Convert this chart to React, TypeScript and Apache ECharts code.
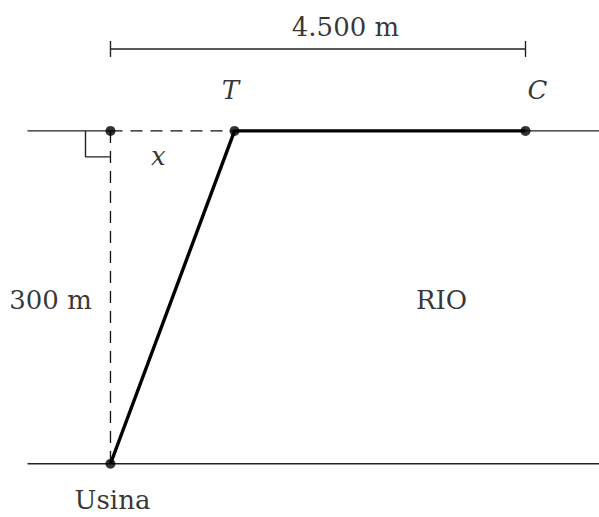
import React, { useEffect, useRef } from "react";
import * as echarts from "echarts";

// Model coordinates: x in metres along the river (Usina at 0), y in metres across (bottom bank 0)
const axisX = { min: -1198, max: 5297 };
const axisY = { min: -48, max: 418 };

const riverBankBottom: [number, number][] = [[-900, 0], [5297, 0]];
const riverBankTopLeft: [number, number][] = [[-900, 300], [0, 300]];
const riverBankTopRight: [number, number][] = [[4500, 300], [5297, 300]];
const dashedVertical: [number, number][] = [[0, 300], [0, 0]];
const dashedHorizontal: [number, number][] = [[0, 300], [1345, 300]];
const cablePath: [number, number][] = [[0, 0], [1345, 300], [4500, 300]];
const points: [number, number][] = [[0, 300], [1345, 300], [4500, 300], [0, 0]];
const rightAngle: [number, number][] = [[-271, 300], [-271, 276.6], [0, 276.6]];
const dimLine: [number, number][] = [[0, 373.9], [4500, 373.9]];
const dimTickLeft: [number, number][] = [[0, 366.7], [0, 381.1]];
const dimTickRight: [number, number][] = [[4500, 366.7], [4500, 381.1]];

const labels: { text: string; pos: [number, number]; italic: boolean }[] = [
  { text: "4.500 m", pos: [2548, 393.7], italic: false },
  { text: "T", pos: [1301, 337], italic: true },
  { text: "C", pos: [4630, 337], italic: true },
  { text: "x", pos: [520, 277.5], italic: true },
  { text: "300 m", pos: [-650, 147.7], italic: false },
  { text: "RIO", pos: [3589, 147.7], italic: false },
  { text: "Usina", pos: [22, -32.4], italic: false },
];

const FONT = "'DejaVu Serif', 'Liberation Serif', serif";

function lineSeries(data: [number, number][], width: number, color: string, type: any = "solid") {
  return {
    type: "line",
    data,
    symbol: "none",
    lineStyle: { width, color, type },
    silent: true,
    z: 2,
  };
}

export default function App() {
  const ref = useRef<HTMLDivElement>(null);
  useEffect(() => {
    if (!ref.current) return;
    const chart = echarts.init(ref.current, undefined, { renderer: "svg" });
    chart.setOption({
      animation: false,
      backgroundColor: "#ffffff",
      grid: { left: 0, right: 0, top: 0, bottom: 0 },
      xAxis: { type: "value", min: axisX.min, max: axisX.max, show: false },
      yAxis: { type: "value", min: axisY.min, max: axisY.max, show: false },
      series: [
        lineSeries(riverBankBottom, 1.4, "#222222"),
        lineSeries(riverBankTopLeft, 1.4, "#222222"),
        lineSeries(riverBankTopRight, 1.4, "#222222"),
        lineSeries(dashedVertical, 1.3, "#111111", [12, 8]),
        lineSeries(dashedHorizontal, 1.3, "#111111", [12, 8]),
        lineSeries(rightAngle, 1.4, "#222222"),
        lineSeries(dimLine, 1.4, "#222222"),
        lineSeries(dimTickLeft, 1.4, "#222222"),
        lineSeries(dimTickRight, 1.4, "#222222"),
        { ...lineSeries(cablePath, 3.4, "#000000"), z: 3 },
        {
          type: "scatter",
          data: points,
          symbol: "circle",
          symbolSize: 10,
          itemStyle: { color: "#000000" },
          z: 4,
          silent: true,
        },
        {
          type: "scatter",
          data: labels.map((l) => ({
            value: l.pos,
            label: {
              show: true,
              formatter: l.text,
              position: "inside",
              fontStyle: l.italic ? "italic" : "normal",
            },
          })),
          symbolSize: 0,
          label: {
            show: true,
            color: "#000000",
            fontFamily: FONT,
            fontSize: 26,
            align: "center",
            verticalAlign: "middle",
          },
          z: 5,
          silent: true,
        },
      ],
    });
    return () => chart.dispose();
  }, []);
  return (
    <div
      ref={ref}
      style={{ position: "fixed", left: 0, top: 0, width: 599, height: 517 }}
    />
  );
}
